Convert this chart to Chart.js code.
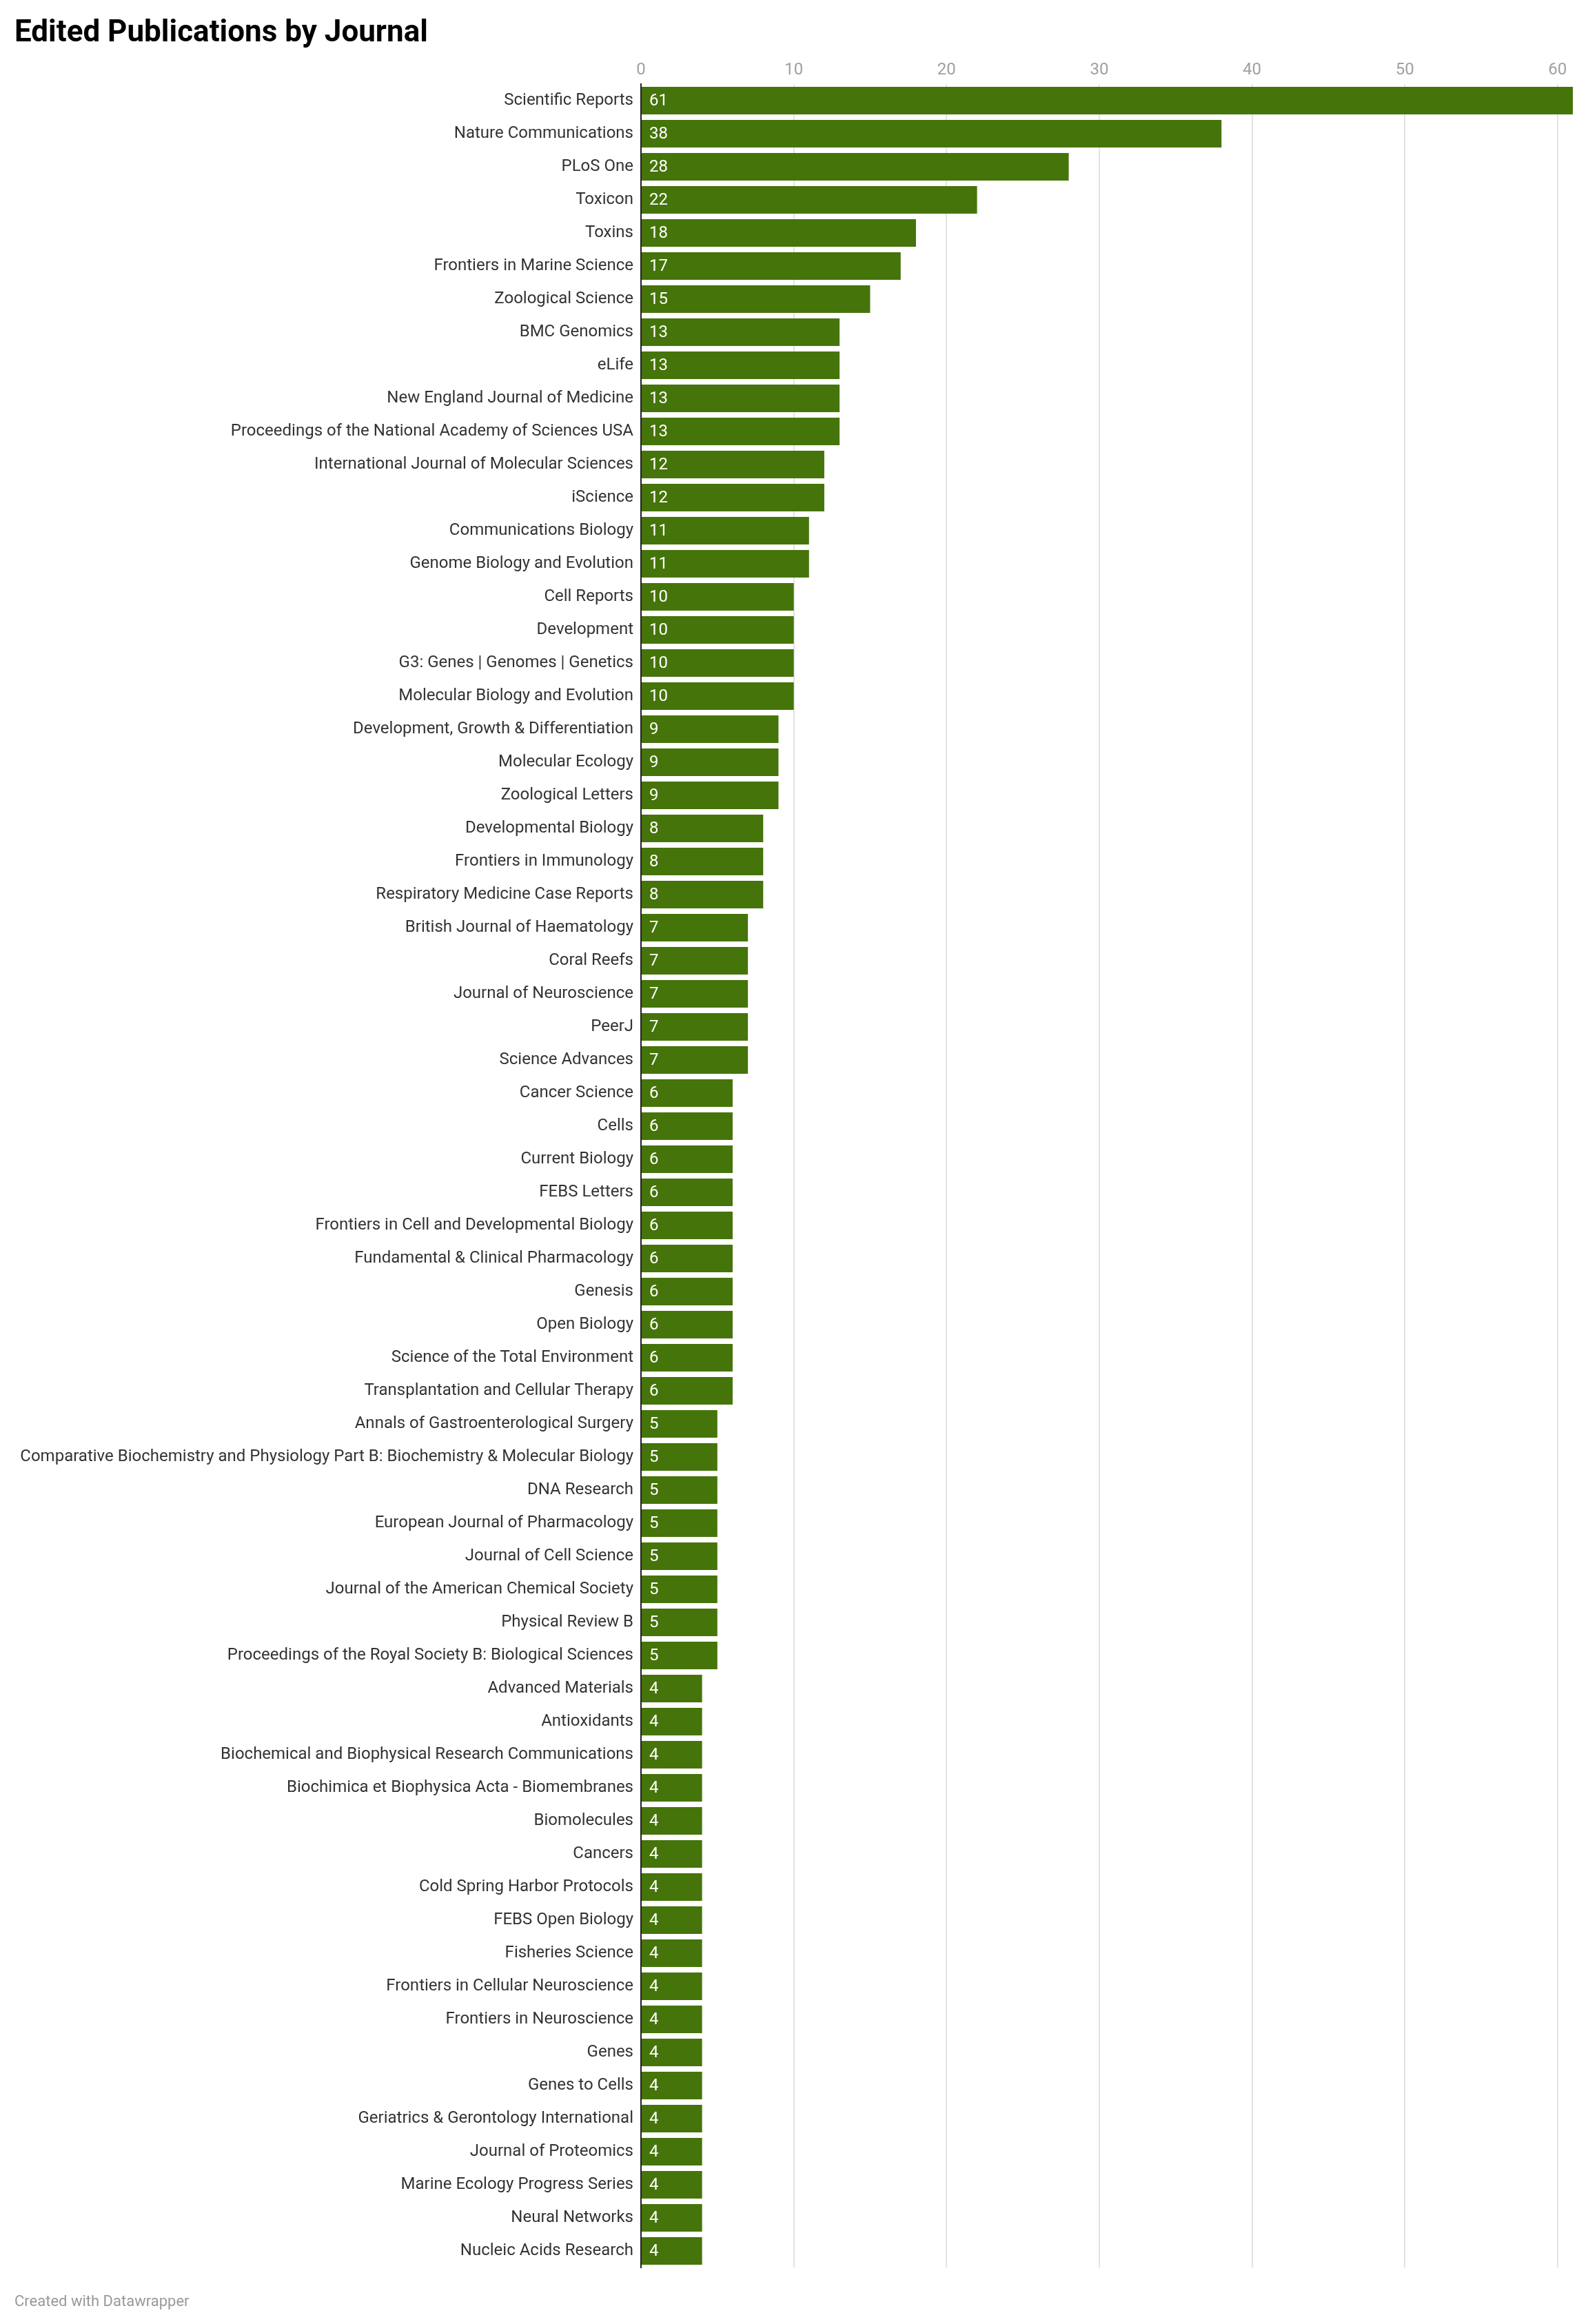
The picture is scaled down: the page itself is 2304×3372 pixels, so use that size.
<!DOCTYPE html>
<html>
<head>
<meta charset="utf-8">
<script src="https://cdn.jsdelivr.net/npm/chart.js@4.4.1/dist/chart.umd.min.js"></script>
<style>
  html, body { margin: 0; padding: 0; background: #ffffff; }
  #wrap { position: relative; width: 2304px; height: 3372px; overflow: hidden; }
  #chart { position: absolute; left: 0; top: 0; }
  #title { position: absolute; left: 21px; top: 23px; font-family: Roboto, sans-serif; font-weight: 700; font-size: 44px; line-height: 44px; color: #000; white-space: nowrap; }
  #footer { position: absolute; left: 21px; top: 3328px; font-family: Roboto, sans-serif; font-size: 22px; line-height: 22px; color: #999999; white-space: nowrap; }
</style>
</head>
<body>
<div id="wrap">
  <canvas id="chart" width="2304" height="3372"></canvas>
  <div id="title">Edited Publications by Journal</div>
  <div id="footer">Created with Datawrapper</div>
</div>
<script>
const journals = [
  "Scientific Reports",
  "Nature Communications",
  "PLoS One",
  "Toxicon",
  "Toxins",
  "Frontiers in Marine Science",
  "Zoological Science",
  "BMC Genomics",
  "eLife",
  "New England Journal of Medicine",
  "Proceedings of the National Academy of Sciences USA",
  "International Journal of Molecular Sciences",
  "iScience",
  "Communications Biology",
  "Genome Biology and Evolution",
  "Cell Reports",
  "Development",
  "G3: Genes | Genomes | Genetics",
  "Molecular Biology and Evolution",
  "Development, Growth & Differentiation",
  "Molecular Ecology",
  "Zoological Letters",
  "Developmental Biology",
  "Frontiers in Immunology",
  "Respiratory Medicine Case Reports",
  "British Journal of Haematology",
  "Coral Reefs",
  "Journal of Neuroscience",
  "PeerJ",
  "Science Advances",
  "Cancer Science",
  "Cells",
  "Current Biology",
  "FEBS Letters",
  "Frontiers in Cell and Developmental Biology",
  "Fundamental & Clinical Pharmacology",
  "Genesis",
  "Open Biology",
  "Science of the Total Environment",
  "Transplantation and Cellular Therapy",
  "Annals of Gastroenterological Surgery",
  "Comparative Biochemistry and Physiology Part B: Biochemistry & Molecular Biology",
  "DNA Research",
  "European Journal of Pharmacology",
  "Journal of Cell Science",
  "Journal of the American Chemical Society",
  "Physical Review B",
  "Proceedings of the Royal Society B: Biological Sciences",
  "Advanced Materials",
  "Antioxidants",
  "Biochemical and Biophysical Research Communications",
  "Biochimica et Biophysica Acta - Biomembranes",
  "Biomolecules",
  "Cancers",
  "Cold Spring Harbor Protocols",
  "FEBS Open Biology",
  "Fisheries Science",
  "Frontiers in Cellular Neuroscience",
  "Frontiers in Neuroscience",
  "Genes",
  "Genes to Cells",
  "Geriatrics & Gerontology International",
  "Journal of Proteomics",
  "Marine Ecology Progress Series",
  "Neural Networks",
  "Nucleic Acids Research"
];

const publications = [
  61, 38, 28, 22, 18, 17, 15, 13, 13, 13,
  13, 12, 12, 11, 11, 10, 10, 10, 10, 9,
  9, 9, 8, 8, 8, 7, 7, 7, 7, 7,
  6, 6, 6, 6, 6, 6, 6, 6, 6, 6,
  5, 5, 5, 5, 5, 5, 5, 5, 4, 4,
  4, 4, 4, 4, 4, 4, 4, 4, 4, 4,
  4, 4, 4, 4, 4, 4
];

const xTicks = [0, 10, 20, 30, 40, 50, 60];
const xMax = 61;

const valueLabels = {
  id: 'valueLabels',
  afterDatasetsDraw(chart) {
    const ctx = chart.ctx;
    const meta = chart.getDatasetMeta(0);
    ctx.save();
    ctx.font = '24px Roboto, sans-serif';
    ctx.fillStyle = '#ffffff';
    ctx.textAlign = 'left';
    ctx.textBaseline = 'middle';
    meta.data.forEach((bar, i) => {
      ctx.fillText(String(publications[i]), bar.base + 11, bar.y + 1);
    });
    ctx.restore();
  }
};

function build() {
  new Chart(document.getElementById('chart'), {
    type: 'bar',
    data: {
      labels: journals,
      datasets: [{
        data: publications,
        backgroundColor: '#45740a',
        borderWidth: 0,
        categoryPercentage: 1.0,
        barPercentage: 40 / 48
      }]
    },
    options: {
      indexAxis: 'y',
      responsive: false,
      animation: false,
      devicePixelRatio: 1,
      layout: { padding: { left: 0, right: 22, top: 0, bottom: 82 } },
      plugins: {
        legend: { display: false },
        tooltip: { enabled: false },
        title: { display: false }
      },
      scales: {
        x: {
          type: 'linear',
          position: 'top',
          min: 0,
          max: xMax,
          afterBuildTicks(scale) {
            scale.ticks = xTicks.map(v => ({ value: v }));
          },
          afterFit(scale) { scale.height = 122; },
          ticks: {
            color: '#a0a0a0',
            font: { family: 'Roboto', size: 24 },
            padding: 6,
            maxRotation: 0,
            autoSkip: false
          },
          grid: {
            drawTicks: false,
            lineWidth: 2,
            color: (c) => (c.tick && c.tick.value === 0) ? 'rgba(0,0,0,0)' : '#e3e3e3'
          },
          border: { display: false }
        },
        y: {
          type: 'category',
          position: 'left',
          afterFit(scale) { scale.width = 930; },
          ticks: {
            color: '#333333',
            font: { family: 'Roboto', size: 24 },
            padding: 11,
            autoSkip: false
          },
          grid: { display: false, drawTicks: false },
          border: { display: true, color: '#222222', width: 2 }
        }
      }
    },
    plugins: [valueLabels]
  });
}

if (document.fonts && document.fonts.load) {
  Promise.all([
    document.fonts.load('24px Roboto'),
    document.fonts.load('bold 44px Roboto')
  ]).then(build, build);
} else {
  build();
}
</script>
</body>
</html>
